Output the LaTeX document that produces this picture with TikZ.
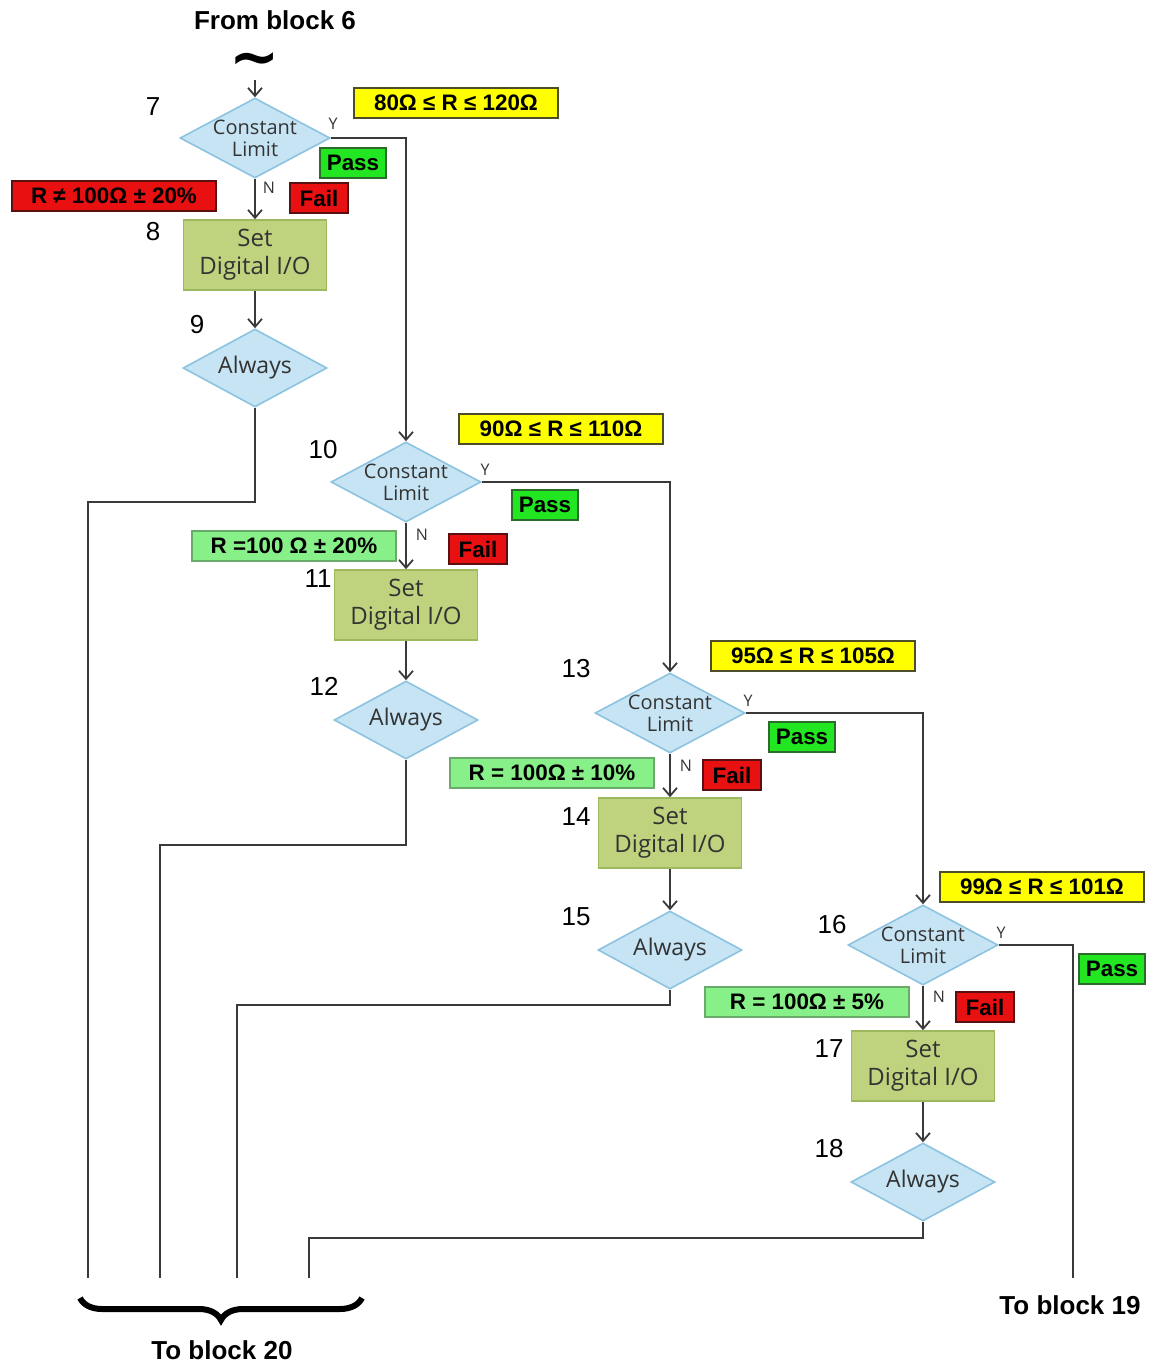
\documentclass[tikz,border=0pt]{standalone}
\usepackage{fontspec}
\setmainfont{Liberation Sans}
\newfontfamily\chartfont{Open Sans}
\newfontfamily\symfont{DejaVu Sans}
\usepackage{tikz}
\usetikzlibrary{positioning,arrows.meta,shapes.geometric,decorations.pathreplacing}
\definecolor{flowink}{HTML}{3A3A3A}
\definecolor{flowtext}{HTML}{333333}
\definecolor{decfill}{HTML}{C6E4F3}
\definecolor{decedge}{HTML}{8CC3E0}
\definecolor{actfill}{HTML}{BFD27E}
\definecolor{actedge}{HTML}{9DB85D}
\definecolor{limfill}{HTML}{FFFF00}
\definecolor{limedge}{HTML}{4D4D2A}
\definecolor{passfill}{HTML}{22E622}
\definecolor{passedge}{HTML}{2B6B2B}
\definecolor{failfill}{HTML}{E81010}
\definecolor{failedge}{HTML}{5A1010}
\definecolor{tolfill}{HTML}{88F088}
\definecolor{toledge}{HTML}{6AAA6A}

\begin{document}
\begin{tikzpicture}[
  x=0.5pt, y=-0.5pt,
  dec/.style={diamond, aspect=1.8, inner sep=-3pt, minimum width=75pt, minimum height=40pt,
    draw=decedge, fill=decfill, line width=0.8pt, align=center, text=flowtext,
    font=\chartfont\fontsize{10}{11}\selectfont},
  alw/.style={dec, minimum width=72pt, minimum height=39pt, font=\chartfont\fontsize{11.5}{12}\selectfont},
  act/.style={rectangle, minimum width=71.5pt, minimum height=35pt, draw=actedge, fill=actfill,
    line width=0.8pt, align=center, text=flowtext, font=\chartfont\fontsize{12}{14}\selectfont},
  tag/.style={rectangle, inner sep=0pt, minimum height=15pt, line width=0.8pt,
    font=\fontsize{11.2}{12}\selectfont\bfseries},
  lim/.style={tag, minimum width=102pt, draw=limedge, fill=limfill},
  pass/.style={tag, minimum width=33pt, draw=passedge, fill=passfill},
  fail/.style={tag, minimum width=29pt, draw=failedge, fill=failfill},
  tol/.style={tag, minimum width=102pt, draw=toledge, fill=tolfill},
  num/.style={font=\fontsize{13}{15}\selectfont, inner sep=0pt},
  yn/.style={font=\chartfont\fontsize{8}{9}\selectfont, text=flowtext, inner sep=0pt},
  ends/.style={font=\fontsize{13}{15}\selectfont\bfseries, inner sep=0pt},
  arr/.style={-{Straight Barb[length=4pt,width=7pt]}, line width=0.9pt, draw=flowink},
  ln/.style={line width=0.9pt, draw=flowink}
]
\useasboundingbox (0,0) rectangle (1155,1364);

% entry
\node[ends] (from6) at (275,20) {From block 6};
\node[inner sep=0pt, anchor=base, font=\symfont\bfseries\fontsize{30}{30}\selectfont] (tld) at (255,78) {∼};
\coordinate (in6) at (255,80);

% column 1
\node[dec] (lim7) at (255,138) {Constant\\Limit};
\node[act] (set8) at (255,255) {Set\\Digital I/O};
\node[alw] (alw9) at (255,368) {Always};
% column 2
\node[dec] (lim10) at (406,482) {Constant\\Limit};
\node[act] (set11) at (406,605) {Set\\Digital I/O};
\node[alw] (alw12) at (406,720) {Always};
% column 3
\node[dec] (lim13) at (670,713) {Constant\\Limit};
\node[act] (set14) at (670,833) {Set\\Digital I/O};
\node[alw] (alw15) at (670,950) {Always};
% column 4
\node[dec] (lim16) at (923,945) {Constant\\Limit};
\node[act] (set17) at (923,1066) {Set\\Digital I/O};
\node[alw] (alw18) at (923,1182) {Always};

% block numbers
\node[num] (n7) at (153,107) {7};
\node[num] (n8) at (153,232) {8};
\node[num] (n9) at (197,325) {9};
\node[num] (n10) at (323,450) {10};
\node[num] (n11) at (318,579) {11};
\node[num] (n12) at (324,686) {12};
\node[num] (n13) at (576,669) {13};
\node[num] (n14) at (576,817) {14};
\node[num] (n15) at (576,917) {15};
\node[num] (n16) at (832,925) {16};
\node[num] (n17) at (829,1049) {17};
\node[num] (n18) at (829,1149) {18};

% limits and results
\node[lim] (rng7) at (456,103) {80Ω ≤ R ≤ 120Ω};
\node[pass] (pass7) at (353,163) {Pass};
\node[fail] (fail7) at (319,198) {Fail};
\node[fail, minimum width=102pt] (tol7) at (114,196) {R ≠ 100Ω ± 20\%};
\node[lim] (rng10) at (561,429) {90Ω ≤ R ≤ 110Ω};
\node[pass] (pass10) at (545,505) {Pass};
\node[fail] (fail10) at (478,549) {Fail};
\node[tol] (tol10) at (294,546) {R =100 Ω ± 20\%};
\node[lim] (rng13) at (813,656) {95Ω ≤ R ≤ 105Ω};
\node[pass] (pass13) at (802,737) {Pass};
\node[fail] (fail13) at (732,775) {Fail};
\node[tol] (tol13) at (552,773) {R = 100Ω ± 10\%};
\node[lim] (rng16) at (1042,887) {99Ω ≤ R ≤ 101Ω};
\node[pass] (pass16) at (1112,969) {Pass};
\node[fail] (fail16) at (985,1007) {Fail};
\node[tol] (tol16) at (807,1002) {R = 100Ω ± 5\%};

% Y / N marks
\node[yn] (y7) at (333,124) {Y};
\node[yn] (no7) at (269,188) {N};
\node[yn] (y10) at (485,470) {Y};
\node[yn] (no10) at (422,535) {N};
\node[yn] (y13) at (748,701) {Y};
\node[yn] (no13) at (686,766) {N};
\node[yn] (y16) at (1001,933) {Y};
\node[yn] (no16) at (939,997) {N};

% free ends
\coordinate (j9) at (88,502);
\coordinate (e9) at (88,1278);
\coordinate (j12) at (160,845);
\coordinate (e12) at (160,1278);
\coordinate (j15) at (237,1005);
\coordinate (e15) at (237,1278);
\coordinate (j18) at (309,1238);
\coordinate (e18) at (309,1278);
\coordinate (e16) at (1073,1278);

\draw[arr] (in6) -- (lim7.north);
\draw[arr] (lim7.south) -- (set8.north);
\draw[arr] (set8.south) -- (alw9.north);
\draw[arr] (lim7.east) -| (lim10.north);
\draw[ln] (alw9.south) |- (j9) -- (e9);

\draw[arr] (lim10.south) -- (set11.north);
\draw[arr] (set11.south) -- (alw12.north);
\draw[arr] (lim10.east) -| (lim13.north);
\draw[ln] (alw12.south) |- (j12) -- (e12);

\draw[arr] (lim13.south) -- (set14.north);
\draw[arr] (set14.south) -- (alw15.north);
\draw[arr] (lim13.east) -| (lim16.north);
\draw[ln] (alw15.south) |- (j15) -- (e15);

\draw[arr] (lim16.south) -- (set17.north);
\draw[arr] (set17.south) -- (alw18.north);
\draw[ln] (lim16.east) -| (e16);
\draw[ln] (alw18.south) |- (j18) -- (e18);

% exits
\coordinate (br1) at (80,1298);
\coordinate (br2) at (362,1298);
\draw[line width=3pt, decorate, decoration={brace, mirror, amplitude=11pt}] (br1) -- (br2);
\node[ends] (to20) at (222,1350) {To block 20};
\node[ends] (to19) at (1070,1305) {To block 19};
\end{tikzpicture}
\end{document}
